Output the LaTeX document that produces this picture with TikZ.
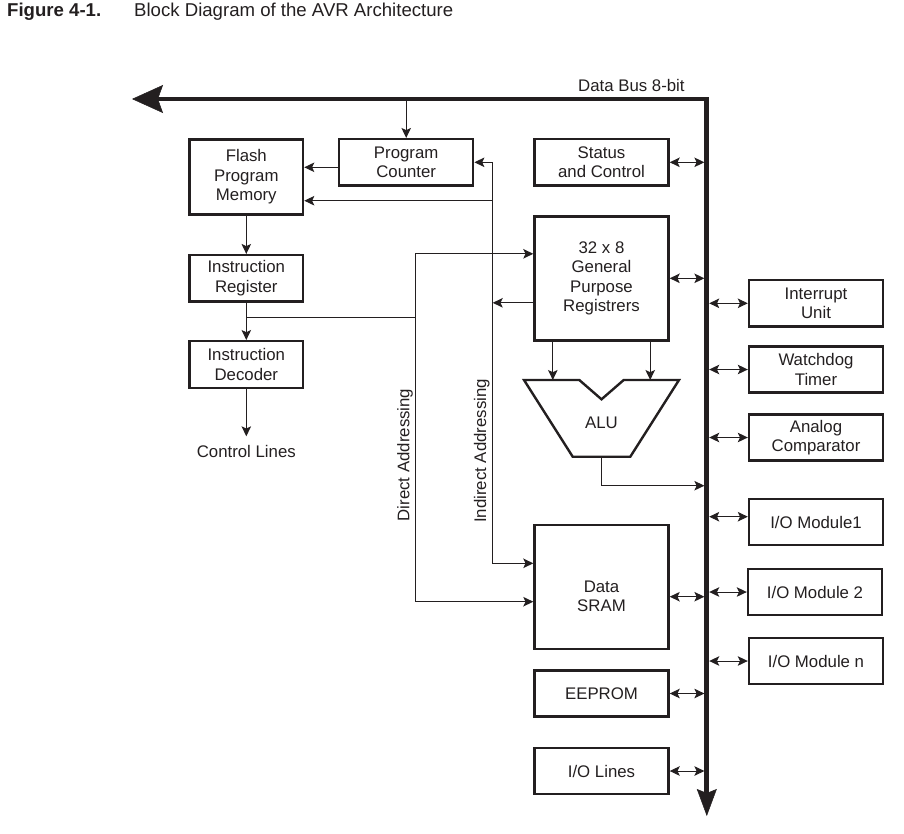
\documentclass[tikz,border=0pt]{standalone}
\usepackage{fontspec}
\setmainfont{Liberation Sans}
\usetikzlibrary{arrows.meta}
\definecolor{ink}{HTML}{231F20}

\begin{document}
\begin{tikzpicture}[x=1pt,y=-1pt,
    every node/.style={text=ink},
    font=\fontsize{16.8}{19.5}\selectfont,
    txt/.style={inner sep=0pt},
    blk/.style={draw=ink, line width=2.4pt, align=center, inner sep=0pt},
    wide/.style={blk, minimum width=134pt, minimum height=46.3pt},
    narrow/.style={blk, minimum width=113.6pt, minimum height=46.3pt},
    tall/.style={blk, minimum width=134pt, minimum height=124pt},
    wire/.style={draw=ink, line width=1pt},
    arr/.style={wire, -{Stealth[length=10pt,width=9.5pt,inset=2.2pt]}},
    biarr/.style={wire, {Stealth[length=10pt,width=9.5pt,inset=2.2pt]}-{Stealth[length=10pt,width=9.5pt,inset=2.2pt]}},
    bus/.style={draw=ink, line width=4.8pt,
      {Stealth[length=27pt,width=20pt,inset=4pt,line width=0.5pt]}-{Stealth[length=31pt,width=28pt,inset=5pt,line width=0.5pt]}}]
  \useasboundingbox (0,0) rectangle (904,833);

  \node[txt, anchor=base west, font=\fontsize{18.6}{21}\selectfont\bfseries] (fig) at (7,16) {Figure 4-1.};
  \node[txt, anchor=base west, font=\fontsize{18.6}{21}\selectfont] (title) at (134,16) {Block Diagram of the AVR Architecture};

  \coordinate (busL) at (132,99);
  \coordinate (busC) at (706.8,99);
  \coordinate (busB) at (706.8,816);
  \coordinate (busin) at (704.4,99);
  \coordinate (busout) at (709.2,99);
  \draw[bus] (busB) -- (busC) -- (busL);
  \node[txt, anchor=base west] (buslbl) at (578,91) {Data Bus 8-bit};

  \node[narrow, minimum height=75.3pt] (flash) at (246.3,177) {Flash\\Program\\Memory};
  \node[wide] (pc) at (406.2,162.3) {Program\\Counter};
  \node[wide] (status) at (601.5,162.3) {Status\\and Control};
  \node[tall] (gpr) at (601.5,278.3) {32 x 8\\General\\Purpose\\Registrers};
  \node[narrow] (ir) at (246.3,278.3) {Instruction\\Register};
  \node[narrow, minimum height=47pt] (id) at (246.3,364.7) {Instruction\\Decoder};
  \node[txt, anchor=base] (ctl) at (246.3,457.7) {Control Lines};
  \node[tall, label={[txt, align=center, yshift=-9.5pt]center:Data\\SRAM}] (sram) at (601.5,587) {};
  \node[wide] (eeprom) at (601.5,693.5) {EEPROM};
  \node[wide] (iolines) at (601.5,771) {I/O Lines};

  \node[wide] (irq) at (816,303.3) {Interrupt\\Unit};
  \node[wide] (wdt) at (816,369.5) {Watchdog\\Timer};
  \node[wide] (acomp) at (816,437.5) {Analog\\Comparator};
  \node[wide] (iom1) at (816,522) {I/O Module1};
  \node[wide] (iom2) at (815,592) {I/O Module 2};
  \node[wide] (iomn) at (816,661) {I/O Module n};

  \draw[draw=ink, line width=2.4pt, line join=miter]
    (524,380) -- (579.3,380) -- (601.5,399.3) -- (623.7,380) -- (679,380)
    -- (630.3,456.7) -- (572.7,456.7) -- cycle;
  \node[txt, anchor=base] (alu) at (601.5,428.3) {ALU};
  \coordinate (aluinA) at (552.8,380);
  \coordinate (aluinB) at (650.2,380);
  \coordinate (aluout) at (601.5,456.7);
  \coordinate (alubus) at (704.4,485.7);

  \coordinate (dirjoin) at (415.8,317.3);
  \coordinate (indtop) at (492.7,162.3);
  \path ([yshift=-5pt]pc.west) coordinate (pcout);
  \path ([yshift=-23.7pt]flash.east) coordinate (flashind);
  \path ([yshift=24.5pt]gpr.west) coordinate (gprdir);
  \path ([yshift=-24.5pt]gpr.west) coordinate (gprind);
  \path ([yshift=23.7pt]sram.west) coordinate (sramind);
  \path ([yshift=-14.7pt]sram.west) coordinate (sramdir);
  \path ([yshift=-9.7pt]sram.east) coordinate (srambus);
  \path ([yshift=5.3pt]iom1.west) coordinate (iom1bus);

  \draw[arr] (pc.north |- busC) -- (pc.north);
  \draw[arr] (pcout) -- (flash.east |- pcout);
  \draw[arr] (flash.south) -- (ir.north);
  \draw[arr] (ir.south) -- (id.north);
  \draw[arr] (id.south) -- ([yshift=9pt]ctl.north);

  \draw[wire] (ir.south |- dirjoin) -- (dirjoin);
  \draw[arr] (dirjoin) |- (gprdir);
  \draw[arr] (dirjoin) |- (sramdir);
  \node[txt, rotate=90, anchor=base] (dirlbl) at (409.3,455) {Direct Addressing};

  \draw[biarr] (pc.east) -- (indtop) |- (sramind);
  \draw[arr] (indtop |- flashind) -- (flashind);
  \draw[arr] (gprind) -- (indtop |- gprind);
  \node[txt, rotate=90, anchor=base] (indlbl) at (486.2,451) {Indirect Addressing};

  \draw[arr] (gpr.south -| aluinA) -- (aluinA);
  \draw[arr] (gpr.south -| aluinB) -- (aluinB);
  \draw[arr] (aluout) |- (alubus);

  \draw[biarr] (status.east) -- (busin |- status.east);
  \draw[biarr] (gpr.east) -- (busin |- gpr.east);
  \draw[biarr] (srambus) -- (busin |- srambus);
  \draw[biarr] (eeprom.east) -- (busin |- eeprom.east);
  \draw[biarr] (iolines.east) -- (busin |- iolines.east);

  \draw[biarr] (busout |- irq.west) -- (irq.west);
  \draw[biarr] (busout |- wdt.west) -- (wdt.west);
  \draw[biarr] (busout |- acomp.west) -- (acomp.west);
  \draw[biarr] (busout |- iom1bus) -- (iom1bus);
  \draw[biarr] (busout |- iom2.west) -- (iom2.west);
  \draw[biarr] (busout |- iomn.west) -- (iomn.west);
\end{tikzpicture}
\end{document}
